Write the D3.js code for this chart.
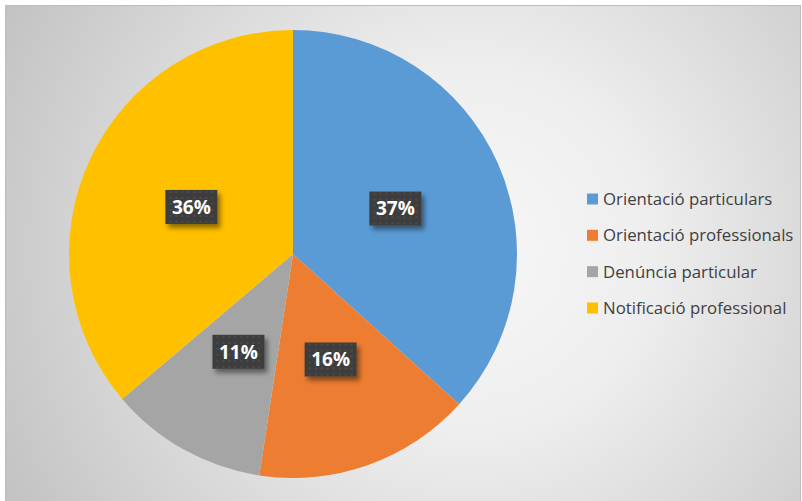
<!DOCTYPE html>
<html>
<head>
<meta charset="utf-8">
<script src="https://cdn.jsdelivr.net/npm/d3@7"></script>
<style>
  body { margin: 0; background: #fff; }
  svg { display: block; }
</style>
</head>
<body>
<svg width="802" height="501"></svg>
<script>
// chart data
var categories = ["Orientació particulars", "Orientació professionals", "Denúncia particular", "Notificació professional"];
var shares = [36.7, 15.7, 11.4, 36.2];
var colors = ["#5b9bd5", "#ed7d31", "#a5a5a5", "#ffc000"];

var svg = d3.select("svg"),
    width = +svg.attr("width"),
    height = +svg.attr("height");

var defs = svg.append("defs");

// background gradient
var grad = defs.append("radialGradient")
    .attr("id", "bg")
    .attr("gradientUnits", "userSpaceOnUse")
    .attr("cx", 470).attr("cy", 250).attr("r", 520);
grad.append("stop").attr("offset", "0%").attr("stop-color", "#f7f7f7");
grad.append("stop").attr("offset", "35%").attr("stop-color", "#eeeeee");
grad.append("stop").attr("offset", "100%").attr("stop-color", "#c3c3c3");

// dotted fill for the label boxes
var pat = defs.append("pattern")
    .attr("id", "dots")
    .attr("patternUnits", "userSpaceOnUse")
    .attr("width", 6).attr("height", 6);
pat.append("rect").attr("width", 6).attr("height", 6).attr("fill", "#3d3d3d");
pat.append("rect").attr("x", 2).attr("y", 2).attr("width", 2).attr("height", 2).attr("fill", "#4c4c4c");

var shadow = defs.append("filter")
    .attr("id", "shadow")
    .attr("x", "-20%").attr("y", "-20%")
    .attr("width", "150%").attr("height", "160%");
shadow.append("feDropShadow")
    .attr("dx", 3).attr("dy", 4)
    .attr("stdDeviation", 2.5)
    .attr("flood-color", "#000")
    .attr("flood-opacity", 0.45);

svg.append("rect")
    .attr("x", 5.5).attr("y", 5.5)
    .attr("width", 795).attr("height", 496)
    .attr("fill", "url(#bg)")
    .attr("stroke", "#bcbcbc");

// pie
var cx = 293, cy = 254, R = 224;

var pie = d3.pie().sort(null).value(function(d) { return d; });
var arcs = pie(shares);

var arc = d3.arc().innerRadius(0).outerRadius(R);

var g = svg.append("g").attr("transform", "translate(" + cx + "," + cy + ")");

g.selectAll("path")
    .data(arcs)
    .enter().append("path")
      .attr("d", arc)
      .attr("fill", function(d, i) { return colors[i]; });

// data labels
var lab = g.selectAll("g.lab")
    .data(arcs)
    .enter().append("g")
      .attr("class", "lab")
      .attr("transform", function(d) {
        var c = arc.centroid(d);
        return "translate(" + c[0] + "," + c[1] + ")";
      });

lab.append("rect")
    .attr("x", -26).attr("y", -17)
    .attr("width", 52).attr("height", 34)
    .attr("fill", "url(#dots)")
    .attr("filter", "url(#shadow)");

lab.append("text")
    .attr("text-anchor", "middle")
    .attr("dy", "0.36em")
    .attr("fill", "#ffffff")
    .style("font-family", "'Open Sans', 'Noto Sans', sans-serif")
    .style("font-weight", "bold")
    .style("font-size", "19px")
    .text(function(d) { return Math.round(d.data) + "%"; });

// legend
var y = d3.scalePoint()
    .domain(categories)
    .range([199, 308]);

var legend = svg.append("g")
    .selectAll("g")
    .data(categories)
    .enter().append("g")
      .attr("transform", function(d) { return "translate(587," + y(d) + ")"; });

legend.append("rect")
    .attr("x", 0).attr("y", -5.5)
    .attr("width", 11).attr("height", 11)
    .attr("fill", function(d, i) { return colors[i]; });

legend.append("text")
    .attr("x", 16)
    .attr("dy", "0.35em")
    .attr("fill", "#404040")
    .style("font-family", "'Open Sans', 'Noto Sans', sans-serif")
    .style("font-size", "16.8px")
    .text(function(d) { return d; });
</script>
</body>
</html>
